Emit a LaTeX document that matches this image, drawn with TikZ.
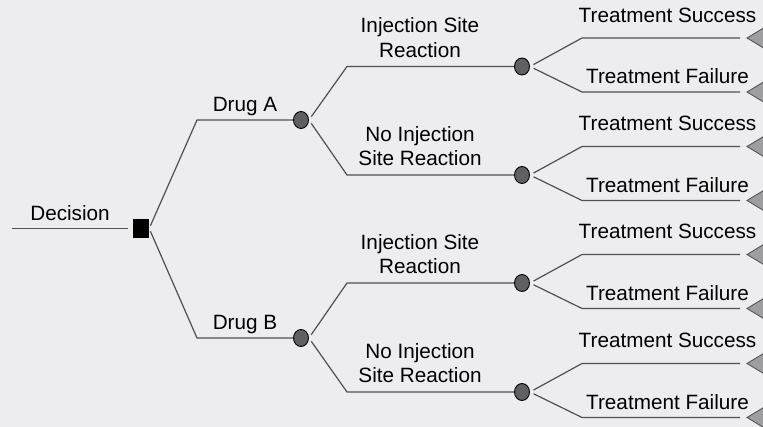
\documentclass[tikz,border=0pt]{standalone}
\usepackage{fontspec}
\setmainfont{Liberation Sans}
\usetikzlibrary{shapes.geometric}

\definecolor{paper}{RGB}{237,237,240}
\definecolor{edgegray}{RGB}{80,80,82}
\definecolor{chancefill}{RGB}{95,95,100}
\definecolor{endfill}{RGB}{158,158,160}

\tikzset{
  choice/.style={rectangle, fill=black, minimum width=16pt, minimum height=19pt, inner sep=0pt},
  chance/.style={ellipse, draw=black, fill=chancefill, line width=0.9pt,
    minimum width=15pt, minimum height=17pt, inner sep=0pt},
  edge/.style={draw=edgegray, line width=1.2pt},
  lbl/.style={font=\fontsize{20.7}{24.5}\selectfont, align=center, inner sep=0pt, anchor=base},
  payoff/.style={fill=endfill, draw=black!70, line width=0.8pt}
}

\begin{document}
\begin{tikzpicture}[x=1pt, y=-1pt]
\clip (0,0) rectangle (763,427);
\fill[paper] (0,0) rectangle (763,427);

% decision and the two drugs
\coordinate (root) at (12,228.5);
\node[choice] (dec) at (141,228.5) {};
\node[chance] (drugA) at (301,120) {};
\node[chance] (drugB) at (301,338) {};
\draw[edge, shorten >=5pt] (root) -- (dec);
\draw[edge, shorten <=3pt] (dec.east) -- (197,120) -- (drugA);
\draw[edge, shorten <=3pt] (dec.east) -- (197,338) -- (drugB);
\node[lbl] (decL) at (70,221) {Decision};
\node[lbl] (drugAL) at (245,112) {Drug A};
\node[lbl] (drugBL) at (245,330) {Drug B};

% reaction / no reaction
\foreach \d/\n/\y/\t in {drugA/isrA/66.5/{Injection Site\\Reaction},
    drugA/nisrA/175/{No Injection\\Site Reaction},
    drugB/isrB/283/{Injection Site\\Reaction},
    drugB/nisrB/392/{No Injection\\Site Reaction}} {
  \node[chance] (\n) at (522,\y) {};
  \draw[edge, shorten <=4pt] (\d.east) -- (347,\y) -- (\n);
  \node[lbl] (\n L) at (420,\y-9) {\t};
}

% outcomes and end points
\foreach \n/\y in {isrA/66.5, nisrA/175, isrB/283, nisrB/392} {
  \coordinate (\n-ok) at (747,\y-28.5);
  \coordinate (\n-fail) at (747,\y+25.5);
  \draw[edge, shorten <=4pt, shorten >=7pt] (\n.east) -- (582,\y-28.5) -- (\n-ok);
  \draw[edge, shorten <=4pt, shorten >=7pt] (\n.east) -- (582,\y+25.5) -- (\n-fail);
  \filldraw[payoff] (\n-ok) -- ++(33,-20) -- ++(0,40) -- cycle;
  \filldraw[payoff] (\n-fail) -- ++(33,-20) -- ++(0,40) -- cycle;
  \node[lbl] (\n-okL) at (667.5,\y-44) {Treatment Success};
  \node[lbl] (\n-failL) at (667.5,\y+17.5) {Treatment Failure};
}
\end{tikzpicture}
\end{document}
